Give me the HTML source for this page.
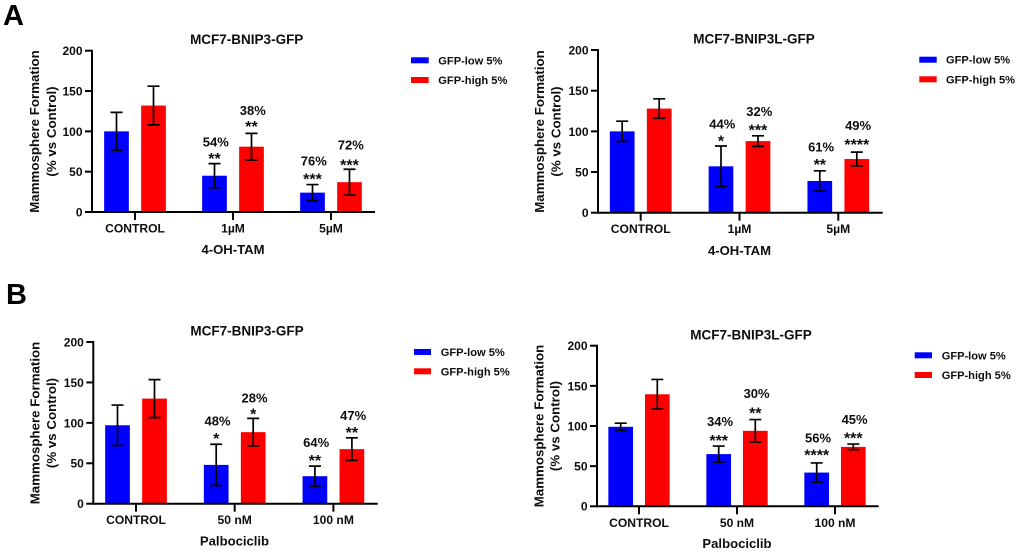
<!DOCTYPE html>
<html lang="en">
<head>
<meta charset="utf-8">
<title>Mammosphere Formation Charts</title>
<style>
html,body{margin:0;padding:0;background:#fff;width:1020px;height:552px;overflow:hidden}
svg{display:block}
text{font-family:"Liberation Sans",Arial,sans-serif;font-weight:bold;fill:#111}
.title{font-size:13.5px;text-anchor:middle}
.ylab{font-size:13.3px;text-anchor:middle}
.xtitle{font-size:13.1px;text-anchor:middle}
.leg{font-size:11.1px}
.letter{font-size:29px;fill:#000}
</style>
</head>
<body>
<svg id="figure" xmlns="http://www.w3.org/2000/svg" width="1020" height="552" viewBox="0 0 1020 552">
<defs><filter id="soft" x="0" y="0" width="100%" height="100%"><feGaussianBlur stdDeviation="0.35"/></filter></defs>
<rect width="1020" height="552" fill="#fff"/>
<g filter="url(#soft)">
<text class="letter" x="3" y="25">A</text>
<text class="letter" x="6" y="304">B</text>

<g id="panel-a1">
<text class="title" x="246.7" y="44">MCF7-BNIP3-GFP</text>
<text class="ylab" transform="translate(39,131.5) rotate(-90)">Mammosphere Formation</text>
<text class="ylab" transform="translate(56,131.5) rotate(-90)">(% vs Control)</text>
<text class="xtitle" x="233" y="254">4-OH-TAM</text>
<rect x="411" y="57.3" width="17.7" height="6" fill="#0000ff"/>
<text class="leg" x="438.3" y="64.3">GFP-low 5%</text>
<rect x="411" y="77" width="17.7" height="6" fill="#ff0000"/>
<text class="leg" x="438.3" y="84">GFP-high 5%</text>
</g>

<g id="panel-a2">
<text class="title" x="754" y="43.5">MCF7-BNIP3L-GFP</text>
<text class="ylab" transform="translate(544,131.5) rotate(-90)">Mammosphere Formation</text>
<text class="ylab" transform="translate(560.5,131.5) rotate(-90)">(% vs Control)</text>
<text class="xtitle" x="739.5" y="255">4-OH-TAM</text>
<rect x="919.3" y="56.7" width="17.4" height="6" fill="#0000ff"/>
<text class="leg" x="946" y="63.7">GFP-low 5%</text>
<rect x="919.3" y="76.3" width="17.4" height="6" fill="#ff0000"/>
<text class="leg" x="946" y="83.3">GFP-high 5%</text>
</g>

<g id="panel-b1">
<text class="title" x="247" y="335.5">MCF7-BNIP3-GFP</text>
<text class="ylab" transform="translate(39.5,423) rotate(-90)">Mammosphere Formation</text>
<text class="ylab" transform="translate(56,423) rotate(-90)">(% vs Control)</text>
<text class="xtitle" x="234.5" y="545.5">Palbociclib</text>
<rect x="414" y="349" width="17" height="6" fill="#0000ff"/>
<text class="leg" x="440.7" y="356">GFP-low 5%</text>
<rect x="414" y="368.3" width="17" height="6" fill="#ff0000"/>
<text class="leg" x="440.7" y="375.3">GFP-high 5%</text>
</g>

<g id="panel-b2">
<text class="title" x="751" y="339.5">MCF7-BNIP3L-GFP</text>
<text class="ylab" transform="translate(543.5,426) rotate(-90)">Mammosphere Formation</text>
<text class="ylab" transform="translate(559.5,426) rotate(-90)">(% vs Control)</text>
<text class="xtitle" x="737" y="548">Palbociclib</text>
<rect x="914.7" y="352.3" width="17.3" height="6" fill="#0000ff"/>
<text class="leg" x="941.7" y="359.3">GFP-low 5%</text>
<rect x="914.7" y="372" width="17.3" height="6" fill="#ff0000"/>
<text class="leg" x="941.7" y="379">GFP-high 5%</text>
</g>
</g>
</svg>
<script>
const yTickValues = [0, 50, 100, 150, 200];

const a1Categories = ["CONTROL", "1µM", "5µM"];
const a1Low = [100, 45, 24];
const a1LowErr = [23.5, 15, 10];
const a1High = [132, 81, 37];
const a1HighErr = [24, 16.5, 16];
const a1LowPct = ["", "54%", "76%"];
const a1HighPct = ["", "38%", "72%"];
const a1LowStars = ["", "**", "***"];
const a1HighStars = ["", "**", "***"];

const a2Categories = ["CONTROL", "1µM", "5µM"];
const a2Low = [100, 57, 39];
const a2LowErr = [12.5, 25, 12.5];
const a2High = [128, 88, 66];
const a2HighErr = [12, 6.5, 8.5];
const a2LowPct = ["", "44%", "61%"];
const a2HighPct = ["", "32%", "49%"];
const a2LowStars = ["", "*", "**"];
const a2HighStars = ["", "***", "****"];

const b1Categories = ["CONTROL", "50 nM", "100 nM"];
const b1Low = [97, 48, 34];
const b1LowErr = [25, 25.5, 12.5];
const b1High = [130, 88.5, 67.5];
const b1HighErr = [23.5, 17, 14];
const b1LowPct = ["", "48%", "64%"];
const b1HighPct = ["", "28%", "47%"];
const b1LowStars = ["", "*", "**"];
const b1HighStars = ["", "*", "**"];

const b2Categories = ["CONTROL", "50 nM", "100 nM"];
const b2Low = [99, 65, 42];
const b2LowErr = [4.5, 10, 12];
const b2High = [139.5, 94, 74];
const b2HighErr = [18.5, 14, 3.5];
const b2LowPct = ["", "34%", "56%"];
const b2HighPct = ["", "30%", "45%"];
const b2LowStars = ["", "***", "****"];
const b2HighStars = ["", "**", "***"];

const NS = "http://www.w3.org/2000/svg";

function make(parent, tag, attrs, content) {
  const el = document.createElementNS(NS, tag);
  for (const k in attrs) el.setAttribute(k, attrs[k]);
  if (content !== undefined) el.textContent = content;
  parent.appendChild(el);
  return el;
}

function drawSeries(g, xOf, yOf, offset, barW, color, seriesName, values, errs, pcts, stars, starGaps, pctGaps) {
  values.forEach(function (v, i) {
    const cx = xOf(i) + offset;
    const bar = make(g, "rect", { x: cx - barW / 2, y: yOf(v), width: barW, height: yOf(0) - yOf(v), fill: color });
    
    

    const hi = yOf(v + errs[i]);
    const lo = yOf(v - errs[i]);
    const errLine = make(g, "path", {
      d: "M" + cx + " " + hi + "V" + lo + "M" + (cx - 6) + " " + hi + "H" + (cx + 6) + "M" + (cx - 6) + " " + lo + "H" + (cx + 6),
      stroke: "#000", "stroke-width": 1.7, fill: "none"
    });
    
    

    if (stars[i]) {
      const starText = make(g, "text", { x: cx, y: hi - starGaps[i] + 8.5, "text-anchor": "middle", "font-size": 16 }, stars[i]);
      
      
    }
    if (pcts[i]) {
      const pctText = make(g, "text", { x: cx + 1.3, y: hi - pctGaps[i] + 4.7, "text-anchor": "middle", "font-size": 13 }, pcts[i]);
      
      
    }
  });
}

function drawPanel(id, frame, categories, low, lowErr, high, highErr, lowPct, highPct, lowStars, highStars) {
  const g = document.getElementById(id);
  const xOf = function (i) { return frame.first + i * frame.step; };
  const yOf = function (v) { return frame.base - v * (frame.base - frame.top) / 200; };

  drawSeries(g, xOf, yOf, -frame.offset, 24.7, "#0000ff", "gfp-low", low, lowErr, lowPct, lowStars, frame.lowStarGap, frame.lowPctGap);
  drawSeries(g, xOf, yOf, frame.offset, 24.7, "#ff0000", "gfp-high", high, highErr, highPct, highStars, frame.highStarGap, frame.highPctGap);

  const yAxis = make(g, "line", { x1: frame.left, x2: frame.left, y1: yOf(200) - 1, y2: yOf(0) + 1, stroke: "#000", "stroke-width": 2 });
  
  
  const xAxis = make(g, "line", { x1: frame.left, x2: frame.right, y1: yOf(0), y2: yOf(0), stroke: "#000", "stroke-width": 2 });
  
  

  yTickValues.forEach(function (t) {
    const tick = make(g, "line", { x1: frame.left - 7, x2: frame.left, y1: yOf(t), y2: yOf(t), stroke: "#000", "stroke-width": 2 });
    
    
    const label = make(g, "text", { x: frame.left - 9.5, y: yOf(t) + 4.4, "text-anchor": "end", "font-size": 12 }, String(t));
    
    
  });

  categories.forEach(function (c, i) {
    const tick = make(g, "line", { x1: xOf(i), x2: xOf(i), y1: yOf(0), y2: yOf(0) + 8, stroke: "#000", "stroke-width": 2 });
    
    
    const label = make(g, "text", { x: xOf(i), y: yOf(0) + 20.5, "text-anchor": "middle", "font-size": 12.1 }, c);
    
    
  });
}

drawPanel("panel-a1", { left: 92, right: 375, base: 212, top: 50.7, first: 135, step: 98, offset: 18.5,
    lowStarGap: [0, 8, 8.7], highStarGap: [0, 10, 7.3], lowPctGap: [0, 21.7, 24], highPctGap: [0, 23.3, 24.3] },
  a1Categories, a1Low, a1LowErr, a1High, a1HighErr, a1LowPct, a1HighPct, a1LowStars, a1HighStars);
drawPanel("panel-a2", { left: 598, right: 882.7, base: 212.7, top: 50, first: 640.7, step: 98.8, offset: 18.5,
    lowStarGap: [0, 8, 9.3], highStarGap: [0, 9, 10.7], lowPctGap: [0, 22.3, 24], highPctGap: [0, 24.3, 27] },
  a2Categories, a2Low, a2LowErr, a2High, a2HighErr, a2LowPct, a2HighPct, a2LowStars, a2HighStars);
drawPanel("panel-b1", { left: 93.3, right: 377.7, base: 503.7, top: 342, first: 136, step: 98.7, offset: 18.5,
    lowStarGap: [0, 9, 8.7], highStarGap: [0, 7.3, 8.3], lowPctGap: [0, 23.3, 24], highPctGap: [0, 20.6, 22.3] },
  b1Categories, b1Low, b1LowErr, b1High, b1HighErr, b1LowPct, b1HighPct, b1LowStars, b1HighStars);
drawPanel("panel-b2", { left: 597, right: 878.7, base: 506.3, top: 345.7, first: 639, step: 98, offset: 18.3,
    lowStarGap: [0, 8.7, 10.7], highStarGap: [0, 9.7, 9], lowPctGap: [0, 24.7, 25], highPctGap: [0, 26.4, 25] },
  b2Categories, b2Low, b2LowErr, b2High, b2HighErr, b2LowPct, b2HighPct, b2LowStars, b2HighStars);
</script>
</body>
</html>
